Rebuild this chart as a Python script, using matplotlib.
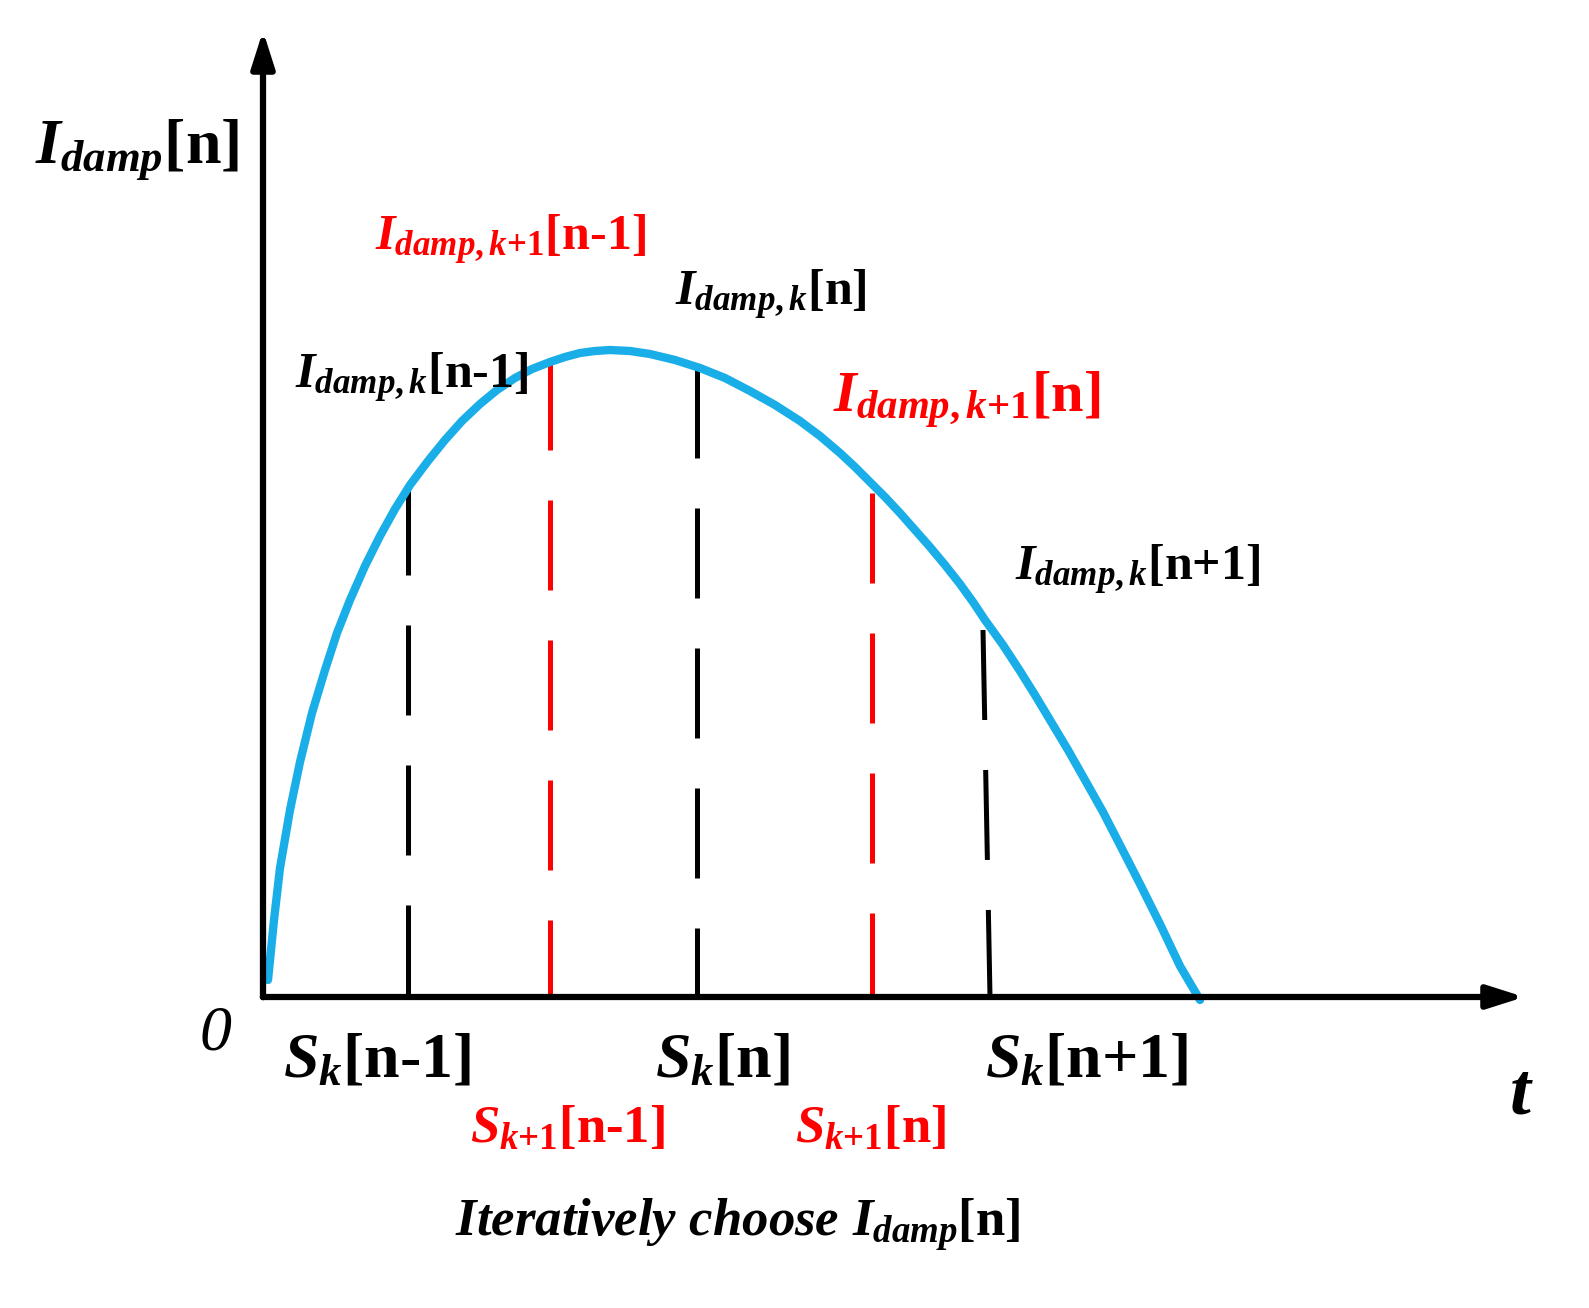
import matplotlib.pyplot as plt

plt.rcParams['mathtext.fontset'] = 'custom'
plt.rcParams['mathtext.rm'] = 'Liberation Serif:bold'
plt.rcParams['mathtext.it'] = 'Liberation Serif:italic:bold'
plt.rcParams['mathtext.bf'] = 'Liberation Serif:bold'
plt.rcParams['font.family'] = 'Liberation Serif'
plt.rcParams['font.weight'] = 'bold'

# curve (pixel coords, y downwards)
curve_x = [268, 274, 280, 290, 300, 312, 325, 337, 350, 365, 380, 395, 410, 428, 445, 462,
           480, 497, 515, 532, 550, 565, 580, 595, 610, 630, 650, 675, 700, 725, 750, 775,
           800, 820, 840, 855, 870, 885, 900, 915, 930, 945, 960, 973, 985, 1003, 1020,
           1035, 1050, 1068, 1085, 1103, 1120, 1140, 1160, 1180, 1200]
curve_y = [980, 920, 868, 810, 762, 713, 670, 633, 600, 566, 536, 509, 485, 461, 440, 421,
           404, 390, 378, 369, 362, 357, 353, 351, 350, 351, 354, 360, 368, 378, 391, 405,
           421, 436, 453, 467, 482, 497, 513, 530, 547, 565, 584, 602, 620, 645, 671,
           695, 720, 750, 780, 812, 845, 884, 924, 966, 1000]

# sample lines: x at top, x at bottom, top y
black_x = [(408, 408, 485), (697, 697, 368), (983, 990, 630)]
red_x = [(550, 550, 360), (872, 872, 493)]
base_y = 997

fig = plt.figure(figsize=(15.89, 13.08), dpi=100)
ax = fig.add_axes([0, 0, 1, 1])
ax.set_xlim(0, 1589)
ax.set_ylim(1308, 0)
ax.axis('off')

for x0, x1, y0 in black_x:
    ax.plot([x0, x1], [y0, base_y], color='black', lw=3.6, dashes=(18, 10))
for x0, x1, y0 in red_x:
    ax.plot([x0, x1], [y0, base_y], color='red', lw=3.6, dashes=(18, 10))

ax.plot(curve_x, curve_y, color='#1AAEE8', lw=6, solid_capstyle='round', solid_joinstyle='round')

# axes arrows
ax.annotate('', xy=(263, 28), xytext=(263, 1000),
            arrowprops=dict(arrowstyle='-|>,head_length=2.2,head_width=0.7', lw=4.5, color='black'))
ax.annotate('', xy=(1527, 997), xytext=(260, 997),
            arrowprops=dict(arrowstyle='-|>,head_length=2.2,head_width=0.7', lw=4.5, color='black'))

ax.text(35, 150, r'$I_{damp}$[n]', fontsize=46, va='center')
ax.text(200, 1035, '0', fontsize=46, style='italic', fontweight='normal', va='center')
ax.text(1510, 1095, 't', fontsize=54, style='italic', va='center')

ax.text(375, 240, r'$I_{damp,k{+}1}$[n-1]', fontsize=36, color='red', va='center')
ax.text(675, 295, r'$I_{damp,k}$[n]', fontsize=36, va='center')
ax.text(295, 378, r'$I_{damp,k}$[n-1]', fontsize=36, va='center')
ax.text(833, 400, r'$I_{damp,k{+}1}$[n]', fontsize=42, color='red', va='center')
ax.text(1015, 570, r'$I_{damp,k}$[n+1]', fontsize=36, va='center')

ax.text(283, 1062, r'$S_k$[n-1]', fontsize=46, va='center')
ax.text(655, 1062, r'$S_k$[n]', fontsize=46, va='center')
ax.text(985, 1062, r'$S_k$[n+1]', fontsize=46, va='center')
ax.text(470, 1130, r'$S_{k{+}1}$[n-1]', fontsize=38, color='red', va='center')
ax.text(795, 1130, r'$S_{k{+}1}$[n]', fontsize=38, color='red', va='center')

ax.text(455, 1225, r'$Iteratively\ choose\ I_{damp}$[n]', fontsize=38, va='center')

fig.savefig('out.png', dpi=100)
